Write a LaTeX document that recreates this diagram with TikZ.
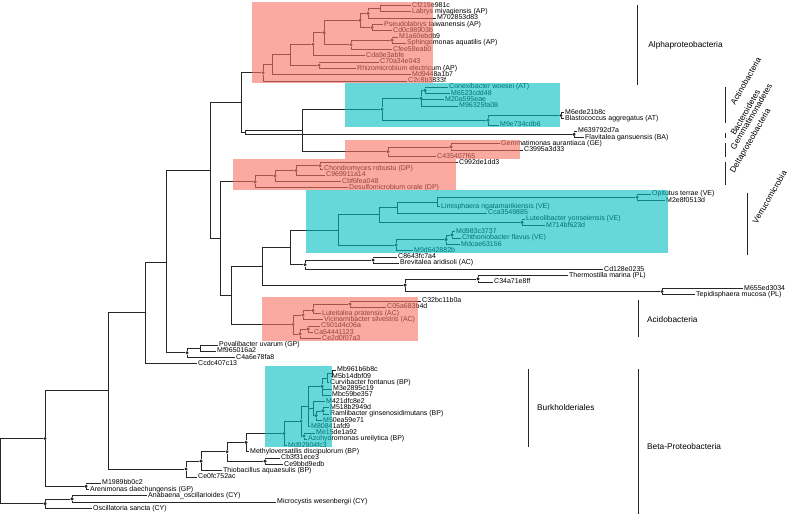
\documentclass[tikz,border=0pt]{standalone}
\usepackage{fontspec}
\setmainfont{Liberation Sans}
\definecolor{cladepink}{RGB}{247,113,97}
\definecolor{cladecyan}{RGB}{0,190,193}

\begin{document}
\begin{tikzpicture}[
  x=1pt, y=-6.285pt,
  every node/.style={font=\fontsize{7}{7}\selectfont},
  leaf/.style={anchor=west, inner sep=1pt, text height=5pt, text depth=1.5pt},
  branch/.style={draw=black!85, line width=0.75pt},
  support/.style={circle, fill=black!85, inner sep=0pt, minimum size=3.4pt},
  pinkbox/.style={fill=cladepink, fill opacity=0.6, draw=none},
  cyanbox/.style={fill=cladecyan, fill opacity=0.6, draw=none},
  cladebar/.style={draw=black!85, line width=0.75pt},
  cladelabel/.style={anchor=west, inner sep=1pt, font=\fontsize{8.3}{8.3}\selectfont},
  tiltlabel/.style={cladelabel, rotate=60}
]
  \useasboundingbox (0,0.125) rectangle (800,81.9);

  % Foglie (una riga per foglia)
  \node[leaf] (cf219) at (411,1) {Cf219e981c};
  \node[leaf] (labrys) at (411,2) {Labrys miyagiensis (AP)};
  \node[leaf] (m7028) at (436,3) {M702853d83};
  \node[leaf] (pseudo) at (383,4) {Pseudolabrys taiwanensis (AP)};
  \node[leaf] (cd0c) at (392,5) {Cd0c98903b};
  \node[leaf] (m1a60) at (398,6) {M1a60ebdb9};
  \node[leaf] (sphingo) at (406,7) {Sphingomonas aquatilis (AP)};
  \node[leaf] (cfee) at (392,8) {Cfee58eab0};
  \node[leaf] (cda9) at (365,9) {Cda9e3abfe};
  \node[leaf] (c70a) at (379,10) {C70a34e043};
  \node[leaf] (rhizo) at (356,11) {Rhizomicrobium electricum (AP)};
  \node[leaf] (md944) at (411,12) {Md9448a1b7};
  \node[leaf] (c2c8) at (407,13) {C2c8b3833f};
  \node[leaf] (conex) at (448,14) {Conexibacter woesei (AT)};
  \node[leaf] (m6523) at (450,15) {M6523cdd48};
  \node[leaf] (m20a) at (444,16) {M20a595eae};
  \node[leaf] (m9632) at (458,17) {M96325fa08};
  \node[leaf] (m6ede) at (564,18) {M6ede21b8c};
  \node[leaf] (blasto) at (564,19) {Blastococcus aggregatus (AT)};
  \node[leaf] (m9e73) at (499,20) {M9e734cdb6};
  \node[leaf] (m6397) at (577,21) {M639792d7a};
  \node[leaf] (flavit) at (584,22) {Flavitalea gansuensis (BA)};
  \node[leaf] (gemmat) at (500,23) {Gemmatimonas aurantiaca (GE)};
  \node[leaf] (c3995) at (523,24) {C3995a3d33};
  \node[leaf] (c4354) at (436,25) {C435407f65};
  \node[leaf] (c992) at (458,26) {C992de1dd3};
  \node[leaf] (chondro) at (323,27) {Chondromyces robustu (DP)};
  \node[leaf] (c9699) at (325,28) {C969911a14};
  \node[leaf] (cbf6) at (341,29) {Cbf6fea048};
  \node[leaf] (desulfo) at (348,30) {Desulfomicrobium orale (DP)};
  \node[leaf] (opitut) at (651,31) {Opitutus terrae (VE)};
  \node[leaf] (m2e8) at (665,32) {M2e8f0513d};
  \node[leaf] (limis) at (440,33) {Limisphaera ngatamarikiensis (VE)};
  \node[leaf] (cca35) at (487,34) {Cca3549885};
  \node[leaf] (luteo) at (525,35) {Luteolibacter yonseiensis (VE)};
  \node[leaf] (m714) at (545,36) {M714bf623d};
  \node[leaf] (md983) at (455,37) {Md983c3737};
  \node[leaf] (chthon) at (461,38) {Chthoniobacter flavus (VE)};
  \node[leaf] (mdcae) at (460,39) {Mdcae63156};
  \node[leaf] (m9d64) at (413,40) {M9d642882b};
  \node[leaf] (c8643) at (397,41) {C8643fc7a4};
  \node[leaf] (brevit) at (399,42) {Brevitalea aridisoli (AC)};
  \node[leaf] (cd128) at (603,43) {Cd128e0235};
  \node[leaf] (thermo) at (568,44) {Thermostilla marina (PL)};
  \node[leaf] (c34a) at (493,45) {C34a71e8ff};
  \node[leaf] (m655) at (743,46) {M655ed3034};
  \node[leaf] (tepid) at (695,47) {Tepidisphaera mucosa (PL)};
  \node[leaf] (c32bc) at (421,48) {C32bc11b0a};
  \node[leaf] (c05a) at (386,49) {C05a683b4d};
  \node[leaf] (luteit) at (321,50) {Luteitalea pratensis (AC)};
  \node[leaf] (vicin) at (323,51) {Vicinamibacter silvestris (AC)};
  \node[leaf] (c501) at (320,52) {C501d4c06a};
  \node[leaf] (ca544) at (313,53) {Ca54441123};
  \node[leaf] (ce2d) at (321,54) {Ce2d0f07a3};
  \node[leaf] (poval) at (218,55) {Povalibacter uvarum (GP)};
  \node[leaf] (mf965) at (216,56) {Mf965016a2};
  \node[leaf] (c4a6) at (235,57) {C4a6e78fa8};
  \node[leaf] (ccdc) at (197,58) {Ccdc407c13};
  \node[leaf] (mb961) at (336,59) {Mb961b6b8c};
  \node[leaf] (m5b14) at (331,60) {M5b14dbf09};
  \node[leaf] (curvi) at (329,61) {Curvibacter fontanus (BP)};
  \node[leaf] (m3e28) at (332,62) {M3e2895c19};
  \node[leaf] (mbc59) at (331,63) {Mbc59be357};
  \node[leaf] (m421) at (325,64) {M421dfc8e2};
  \node[leaf] (m518) at (329,65) {M518b2949d};
  \node[leaf] (ramli) at (329,66) {Ramlibacter ginsenosidimutans (BP)};
  \node[leaf] (m50ea) at (322,67) {M50ea59e71};
  \node[leaf] (m8084) at (310,68) {M80841afd9};
  \node[leaf] (me15d) at (315,69) {Me15de1a92};
  \node[leaf] (azohy) at (307,70) {Azohydromonas ureilytica (BP)};
  \node[leaf] (md929) at (287,71) {Md92904fc3};
  \node[leaf] (methyl) at (249,72) {Methyloversatilis discipulorum (BP)};
  \node[leaf] (cb3f3) at (280,73) {Cb3f31ece3};
  \node[leaf] (ce9bb) at (283,74) {Ce9bbd9edb};
  \node[leaf] (thiob) at (222,75) {Thiobacillus aquaesulis (BP)};
  \node[leaf] (ce0fc) at (197,76) {Ce0fc752ac};
  \node[leaf] (m1989) at (101,77) {M1989bb0c2};
  \node[leaf] (arenim) at (89,78) {Arenimonas daechungensis (GP)};
  \node[leaf] (anab) at (147,79) {Anabaena\_oscillarioides (CY)};
  \node[leaf] (micro) at (276,80) {Microcystis wesenbergii (CY)};
  \node[leaf] (oscil) at (92,81) {Oscillatoria sancta (CY)};

  % Nodi interni
  \coordinate (a1) at (380,1.5);
  \node[support] (a2) at (368,2.25) {};
  \node[support] (a3) at (372,4.5) {};
  \node[support] (a4) at (360,3.375) {};
  \node[support] (a5) at (392,6.5) {};
  \node[support] (a6) at (351,7.25) {};
  \node[support] (a7) at (324,5.31) {};
  \node[support] (a8) at (313,7.16) {};
  \node[support] (a9) at (319,10.5) {};
  \coordinate (a10) at (290,8.83);
  \coordinate (a11) at (272,10.4);
  \node[support] (a0) at (263,11.7) {};
  \node[support] (b1) at (425,14.5) {};
  \node[support] (b2) at (421,15.75) {};
  \node[support] (b4) at (561,18.5) {};
  \node[support] (b5) at (488,19.25) {};
  \node[support] (b0) at (382,17.5) {};
  \node[support] (c1) at (574,21.5) {};
  \node[support] (g1) at (451,23.5) {};
  \node[support] (g0) at (388,24.25) {};
  \node[support] (d4) at (320,26.5) {};
  \node[support] (d3) at (296,27.25) {};
  \node[support] (d2) at (275,28.1) {};
  \node[support] (d1) at (255,29.06) {};
  \node[support] (vop) at (637,31.5) {};
  \coordinate (v3) at (437,32.25);
  \coordinate (v2) at (397,33.1);
  \node[support] (vlu) at (522,35.5) {};
  \coordinate (v1) at (379,34.3);
  \node[support] (vc2) at (452,37.5) {};
  \node[support] (vc1) at (446,38.25) {};
  \node[support] (vch) at (396,39.1) {};
  \coordinate (v0) at (338,36.7);
  \node[support] (q1) at (373,41.5) {};
  \node[support] (q0) at (305,42.25) {};
  \node[support] (t1) at (478,44.5) {};
  \node[support] (t2) at (662,46.5) {};
  \node[support] (t0) at (405,45.5) {};
  \node[support] (aca) at (350,48.5) {};
  \node[support] (acx1) at (313,49.5) {};
  \node[support] (acx2) at (303,50.25) {};
  \node[support] (acd) at (308,52.5) {};
  \node[support] (ace) at (300,53.25) {};
  \node[support] (acf) at (293,51.75) {};
  \coordinate (p1) at (200,55.5);
  \node[support] (p0) at (187,56.25) {};
  \coordinate (k1) at (332,59.5);
  \coordinate (k2) at (327,60.25);
  \node[support] (k3) at (322,61.6) {};
  \node[support] (k4) at (323,65.5) {};
  \node[support] (k5) at (316,66.25) {};
  \coordinate (k6) at (313,65.1);
  \coordinate (k7) at (308,64.8);
  \node[support] (k9) at (304,69.5) {};
  \node[support] (k8) at (301,67.15) {};
  \node[support] (k0) at (284,69.1) {};
  \node[support] (m0) at (246,70.5) {};
  \node[support] (cb) at (265,73.5) {};
  \node[support] (n1) at (227,72) {};
  \node[support] (n2) at (201,73.5) {};
  \node[support] (beta) at (186,74.75) {};
  \node[support] (ar) at (86,77.5) {};
  \node[support] (cy1) at (72,79.5) {};
  \node[support] (cy0) at (45,80.25) {};

  % Dorsale
  \coordinate (t1x) at (290,39.5);
  \coordinate (t2x) at (262,42.5);
  \coordinate (t3x) at (231.7,47.1);
  \coordinate (t4x) at (220,38.1);
  \coordinate (nag) at (302.7,20.9);
  \coordinate (na) at (245,21.2);
  \coordinate (n241) at (241.7,16.45);
  \coordinate (t5x) at (210,27.3);
  \coordinate (n166) at (166.7,41.8);
  \coordinate (n145) at (145,49.9);
  \coordinate (n108) at (108,62.3);
  \node[support] (n45) at (45,69.9) {};
  \coordinate (root) at (0.5,75.1);

  % Rami
  \draw[branch] (a1) |- (cf219) (a1) |- (labrys);
  \draw[branch] (a2) |- (a1) (a2) |- (m7028);
  \draw[branch] (a3) |- (pseudo) (a3) |- (cd0c);
  \draw[branch] (a4) |- (a2) (a4) |- (a3);
  \draw[branch] (a5) |- (m1a60) (a5) |- (sphingo);
  \draw[branch] (a6) |- (a5) (a6) |- (cfee);
  \draw[branch] (a7) |- (a4) (a7) |- (a6);
  \draw[branch] (a8) |- (a7) (a8) |- (cda9);
  \draw[branch] (a9) |- (c70a) (a9) |- (rhizo);
  \draw[branch] (a10) |- (a8) (a10) |- (a9);
  \draw[branch] (a11) |- (a10) (a11) |- (md944);
  \draw[branch] (a0) |- (a11) (a0) |- (c2c8);
  \draw[branch] (b1) |- (conex) (b1) |- (m6523);
  \draw[branch] (b2) |- (b1) (b2) |- (m20a) (b2) |- (m9632);
  \draw[branch] (b4) |- (m6ede) (b4) |- (blasto);
  \draw[branch] (b5) |- (b4) (b5) |- (m9e73);
  \draw[branch] (b0) |- (b2) (b0) |- (b5);
  \draw[branch] (c1) |- (m6397) (c1) |- (flavit);
  \draw[branch] (g1) |- (gemmat) (g1) |- (c3995);
  \draw[branch] (g0) |- (g1) (g0) |- (c4354);
  \draw[branch] (d4) |- (c992) (d4) |- (chondro);
  \draw[branch] (d3) |- (d4) (d3) |- (c9699);
  \draw[branch] (d2) |- (d3) (d2) |- (cbf6);
  \draw[branch] (d1) |- (d2) (d1) |- (desulfo);
  \draw[branch] (vop) |- (opitut) (vop) |- (m2e8);
  \draw[branch] (v3) |- (vop) (v3) |- (limis);
  \draw[branch] (v2) |- (v3) (v2) |- (cca35);
  \draw[branch] (vlu) |- (luteo) (vlu) |- (m714);
  \draw[branch] (v1) |- (v2) (v1) |- (vlu);
  \draw[branch] (vc2) |- (md983) (vc2) |- (chthon);
  \draw[branch] (vc1) |- (vc2) (vc1) |- (mdcae);
  \draw[branch] (vch) |- (vc1) (vch) |- (m9d64);
  \draw[branch] (v0) |- (v1) (v0) |- (vch);
  \draw[branch] (q1) |- (c8643) (q1) |- (brevit);
  \draw[branch] (q0) |- (q1) (q0) |- (cd128);
  \draw[branch] (t1) |- (thermo) (t1) |- (c34a);
  \draw[branch] (t2) |- (m655) (t2) |- (tepid);
  \draw[branch] (t0) |- (t1) (t0) |- (t2);
  \draw[branch] (aca) |- (c32bc) (aca) |- (c05a);
  \draw[branch] (acx1) |- (aca) (acx1) |- (luteit);
  \draw[branch] (acx2) |- (acx1) (acx2) |- (vicin);
  \draw[branch] (acd) |- (c501) (acd) |- (ca544);
  \draw[branch] (ace) |- (acd) (ace) |- (ce2d);
  \draw[branch] (acf) |- (acx2) (acf) |- (ace);
  \draw[branch] (p1) |- (poval) (p1) |- (mf965);
  \draw[branch] (p0) |- (p1) (p0) |- (c4a6);
  \draw[branch] (k1) |- (mb961) (k1) |- (m5b14);
  \draw[branch] (k2) |- (k1) (k2) |- (curvi);
  \draw[branch] (k3) |- (k2) (k3) |- (m3e28) (k3) |- (mbc59);
  \draw[branch] (k4) |- (m518) (k4) |- (ramli);
  \draw[branch] (k5) |- (k4) (k5) |- (m50ea);
  \draw[branch] (k6) |- (m421) (k6) |- (k5);
  \draw[branch] (k7) |- (k3) (k7) |- (k6) (k7) |- (m8084);
  \draw[branch] (k9) |- (me15d) (k9) |- (azohy);
  \draw[branch] (k8) |- (k7) (k8) |- (k9);
  \draw[branch] (k0) |- (k8) (k0) |- (md929);
  \draw[branch] (m0) |- (k0) (m0) |- (methyl);
  \draw[branch] (cb) |- (cb3f3) (cb) |- (ce9bb);
  \draw[branch] (n1) |- (m0) (n1) |- (cb);
  \draw[branch] (n2) |- (n1) (n2) |- (thiob);
  \draw[branch] (beta) |- (n2) (beta) |- (ce0fc);
  \draw[branch] (ar) |- (m1989) (ar) |- (arenim);
  \draw[branch] (cy1) |- (anab) (cy1) |- (micro);
  \draw[branch] (cy0) |- (cy1) (cy0) |- (oscil);
  \draw[branch] (t1x) |- (v0) (t1x) |- (q0);
  \draw[branch] (t2x) |- (t1x) (t2x) |- (t0);
  \draw[branch] (t3x) |- (t2x) (t3x) |- (acf);
  \draw[branch] (t4x) |- (d1) (t4x) |- (t3x);
  \draw[branch] (nag) |- (b0) (nag) |- (g0);
  \draw[branch] (na) |- (nag) (na) |- (c1);
  \draw[branch] (n241) |- (a0) (n241) |- (na);
  \draw[branch] (t5x) |- (n241) (t5x) |- (t4x);
  \draw[branch] (n166) |- (t5x) (n166) |- (p0);
  \draw[branch] (n145) |- (n166) (n145) |- (ccdc);
  \draw[branch] (n108) |- (n145) (n108) |- (beta);
  \draw[branch] (n45) |- (n108) (n45) |- (ar);
  \draw[branch] (root) |- (n45) (root) |- (cy0);

  % Riquadri dei cladi (sopra, semitrasparenti)
  \path[pinkbox] (252,0.45) rectangle (433,13.35);
  \path[cyanbox] (345,13.35) rectangle (560,20.35);
  \path[pinkbox] (345,22.35) rectangle (520,25.35);
  \path[pinkbox] (233,25.35) rectangle (456,30.35);
  \path[cyanbox] (306,30.35) rectangle (668,40.35);
  \path[pinkbox] (262,47.35) rectangle (418,54.35);
  \path[cyanbox] (265,58.35) rectangle (332,71.3);

  % Barre e nomi dei cladi
  \draw[cladebar] (637,0.92) -- (637,13.65) node[cladelabel, midway, right=10pt] (alpha) {Alphaproteobacteria};
  \draw[cladebar] (725,13.97) -- (725,19.7) coordinate[midway] (actmid);
  \draw[cladebar] (725,21.3) -- (725,22.08) coordinate[midway] (bacmid);
  \draw[cladebar] (725,22.88) -- (725,25.1) coordinate[midway] (gemmid);
  \draw[cladebar] (725,25.9) -- (725,29.56) coordinate[midway] (delmid);
  \draw[cladebar] (747,30.8) -- (747,40.7) coordinate[midway] (vermid);
  \node[tiltlabel] (actino) at ([xshift=7pt]actmid) {Actinobacteria};
  \node[tiltlabel] (bacter) at ([xshift=7pt]bacmid) {Bacteroidetes};
  \node[tiltlabel] (gemma) at ([xshift=7pt]gemmid) {Gemmatimonadetes};
  \node[tiltlabel] (delta) at ([xshift=7pt]delmid) {Deltaproteobacteria};
  \node[tiltlabel] (verru) at ([xshift=7pt]vermid) {Verrucomicrobia};
  \draw[cladebar] (638,47.9) -- (638,53.7);
  \node[cladelabel] (acido) at (646,51) {Acidobacteria};
  \draw[cladebar] (528,58.8) -- (528,71.2);
  \node[cladelabel] (burk) at (536,64.9) {Burkholderiales};
  \draw[cladebar] (638,58.8) -- (638,81.9);
  \node[cladelabel] (betap) at (646,71.1) {Beta-Proteobacteria};

\end{tikzpicture}
\end{document}
